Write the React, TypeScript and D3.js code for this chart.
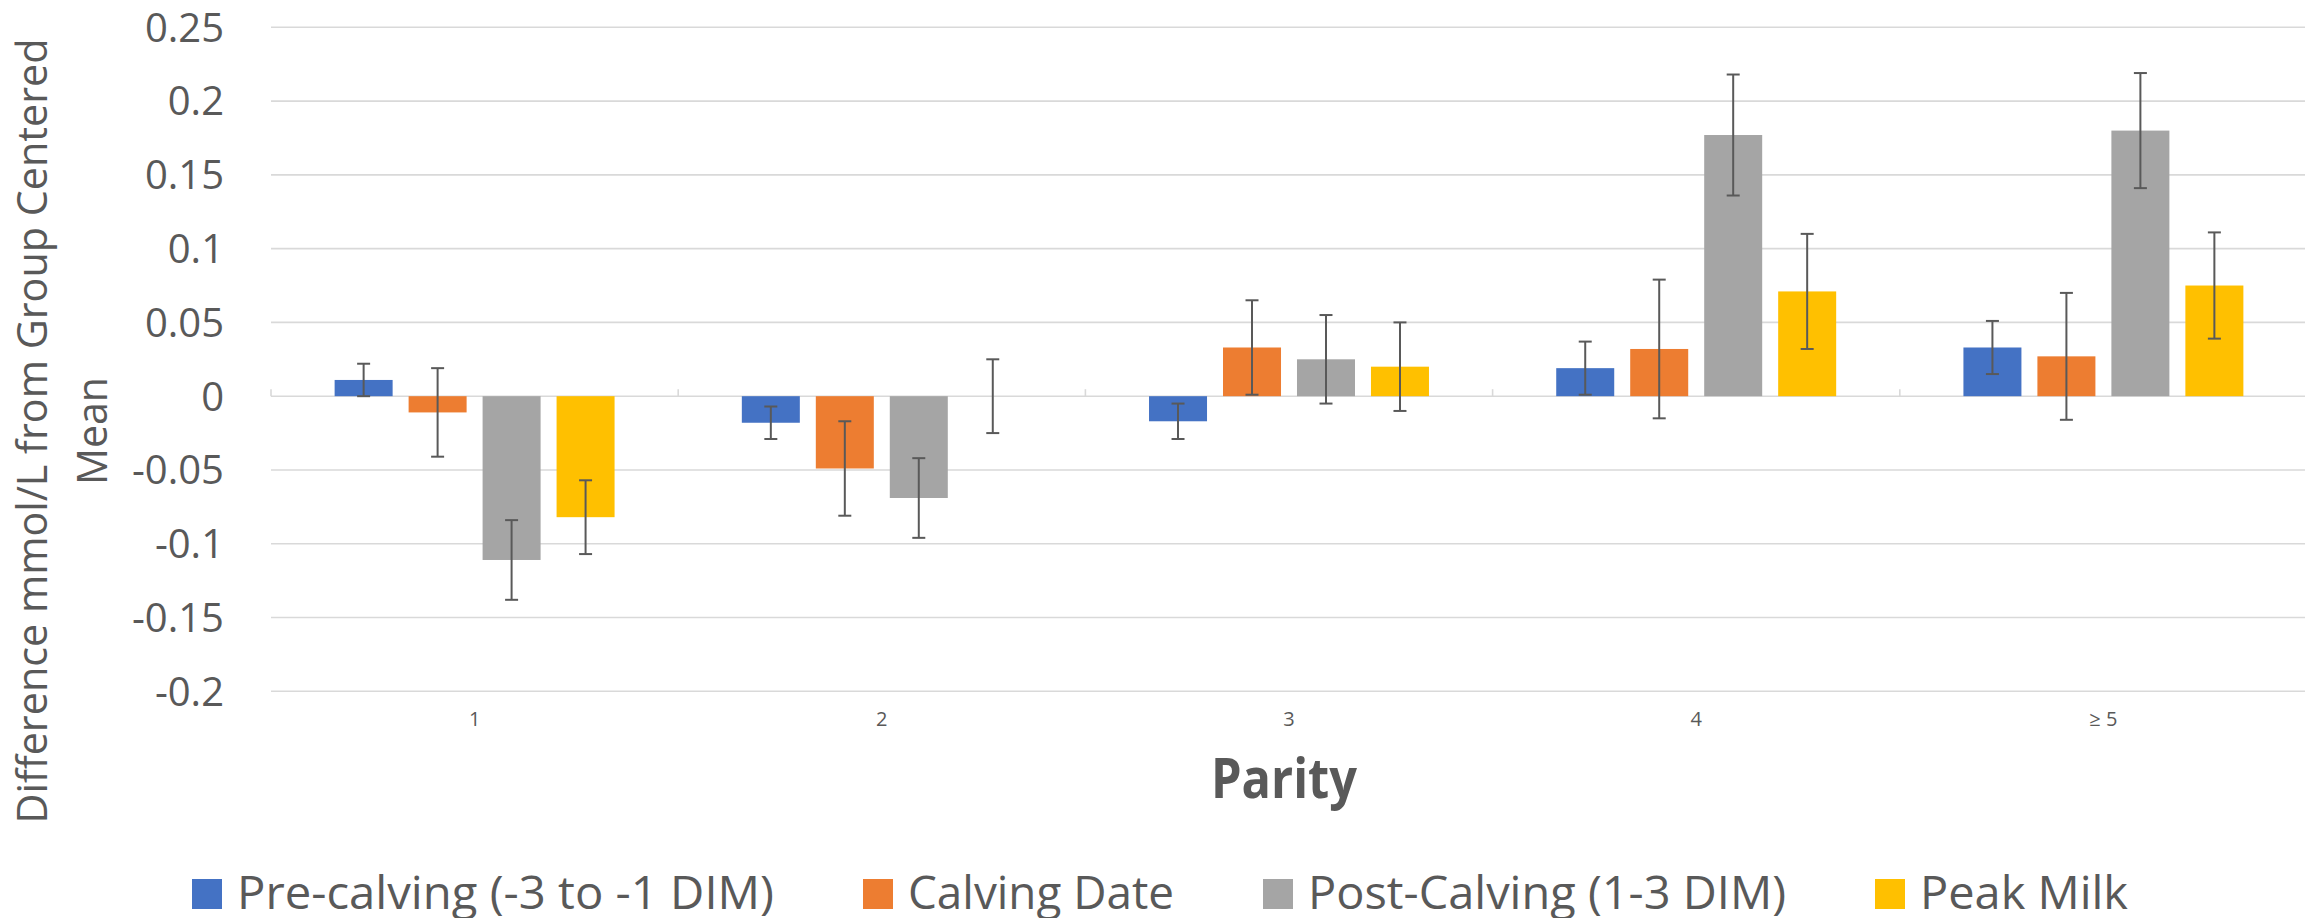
import React from "react";
import * as d3 from "d3";

// Parity groups and series
const categories = ["1", "2", "3", "4", "≥ 5"];
const seriesNames = [
  "Pre-calving (-3 to -1 DIM)",
  "Calving Date",
  "Post-Calving (1-3 DIM)",
  "Peak Milk",
];
const seriesColors = ["#4472C4", "#ED7D31", "#A5A5A5", "#FFC000"];

// Mean difference (mmol/L) from group-centered mean
const preCalving = [0.011, -0.018, -0.017, 0.019, 0.033];
const calvingDate = [-0.011, -0.049, 0.033, 0.032, 0.027];
const postCalving = [-0.111, -0.069, 0.025, 0.177, 0.18];
const peakMilk = [-0.082, 0, 0.02, 0.071, 0.075];

// Error bar half-widths
const preCalvingErr = [0.011, 0.011, 0.012, 0.018, 0.018];
const calvingDateErr = [0.03, 0.032, 0.032, 0.047, 0.043];
const postCalvingErr = [0.027, 0.027, 0.03, 0.041, 0.039];
const peakMilkErr = [0.025, 0.025, 0.03, 0.039, 0.036];

const yTicks = [-0.2, -0.15, -0.1, -0.05, 0, 0.05, 0.1, 0.15, 0.2, 0.25];

const W = 2305;
const H = 918;
const TEXT = "#595959";
const GRID = "#D9D9D9";
const FONT = "'Open Sans', 'Noto Sans', sans-serif";

export default function App() {
  const values = [preCalving, calvingDate, postCalving, peakMilk];
  const errors = [preCalvingErr, calvingDateErr, postCalvingErr, peakMilkErr];

  const plotLeft = 271;
  const plotRight = 2307;

  const x0 = d3
    .scaleBand<string>()
    .domain(categories)
    .range([plotLeft, plotRight])
    .paddingInner(0)
    .paddingOuter(0);

  const x1 = d3
    .scaleBand<string>()
    .domain(seriesNames)
    .range([0, x0.bandwidth()])
    .paddingInner(0.216)
    .paddingOuter(0.86);

  const y = d3.scaleLinear().domain([-0.2, 0.25]).range([691.3, 27.3]);

  const capHalf = 6.5;

  // legend layout
  const legendTextWidths = [537, 266, 478, 208];
  const legendStart = 192;
  const sq = 30;
  const sqGap = 15;
  const itemGap = 89;
  const legendX: number[] = [];
  {
    let cx = legendStart;
    legendTextWidths.forEach((w) => {
      legendX.push(cx);
      cx += sq + sqGap + w + itemGap;
    });
  }
  const legendTop = 879;

  const boundaries = [...categories.map((c) => x0(c) as number), plotRight];

  return (
    <div style={{ position: "fixed", left: 0, top: 0 }}>
      <svg width={W} height={H} style={{ display: "block", background: "#fff" }}>
        {/* gridlines */}
        {yTicks.map((t) => (
          <line
            key={"g" + t}
            x1={plotLeft}
            x2={plotRight}
            y1={y(t)}
            y2={y(t)}
            stroke={GRID}
            strokeWidth={1.6}
          />
        ))}
        {/* category tick marks on the zero axis */}
        {boundaries.map((bx, i) => (
          <line
            key={"ct" + i}
            x1={bx}
            x2={bx}
            y1={y(0)}
            y2={y(0) - 7}
            stroke={GRID}
            strokeWidth={1.6}
          />
        ))}
        {/* y tick labels */}
        {yTicks.map((t) => (
          <text
            key={"yt" + t}
            x={224}
            y={y(t)}
            dy="0.36em"
            textAnchor="end"
            fontFamily={FONT}
            fontSize={40}
            fill={TEXT}
          >
            {String(t)}
          </text>
        ))}
        {/* bars */}
        {categories.map((c, ci) => (
          <g key={"grp" + c} transform={`translate(${x0(c)},0)`}>
            {seriesNames.map((s, si) => {
              const v = values[si][ci];
              const bx = x1(s) as number;
              const y0 = y(0);
              const yv = y(v);
              return (
                <rect
                  key={s}
                  x={bx}
                  y={Math.min(y0, yv)}
                  width={x1.bandwidth()}
                  height={Math.abs(yv - y0)}
                  fill={seriesColors[si]}
                />
              );
            })}
          </g>
        ))}
        {/* error bars */}
        {categories.map((c, ci) => (
          <g key={"err" + c} transform={`translate(${x0(c)},0)`}>
            {seriesNames.map((s, si) => {
              const v = values[si][ci];
              const e = errors[si][ci];
              const cx = (x1(s) as number) + x1.bandwidth() / 2;
              const yt = y(v + e);
              const yb = y(v - e);
              return (
                <g key={s} stroke={TEXT} strokeWidth={2}>
                  <line x1={cx} x2={cx} y1={yt} y2={yb} />
                  <line x1={cx - capHalf} x2={cx + capHalf} y1={yt} y2={yt} />
                  <line x1={cx - capHalf} x2={cx + capHalf} y1={yb} y2={yb} />
                </g>
              );
            })}
          </g>
        ))}
        {/* category labels */}
        {categories.map((c) => (
          <text
            key={"xl" + c}
            x={(x0(c) as number) + x0.bandwidth() / 2}
            y={726}
            textAnchor="middle"
            fontFamily={FONT}
            fontSize={20}
            fill={TEXT}
          >
            {c}
          </text>
        ))}
        {/* x axis title */}
        <text
          x={1284}
          y={798}
          textAnchor="middle"
          fontFamily={FONT}
          fontWeight={700}
          fontSize={56}
          fill={TEXT}
          textLength={146}
          lengthAdjust="spacingAndGlyphs"
        >
          Parity
        </text>
        {/* y axis title */}
        <g transform="translate(47,431) rotate(-90)">
          <text
            x={0}
            y={0}
            textAnchor="middle"
            fontFamily={FONT}
            fontSize={42}
            fill={TEXT}
            textLength={785}
            lengthAdjust="spacingAndGlyphs"
          >
            Difference mmol/L from Group Centered
          </text>
        </g>
        <g transform="translate(107,431) rotate(-90)">
          <text
            x={0}
            y={0}
            textAnchor="middle"
            fontFamily={FONT}
            fontSize={42}
            fill={TEXT}
            textLength={108}
            lengthAdjust="spacingAndGlyphs"
          >
            Mean
          </text>
        </g>
        {/* legend */}
        {seriesNames.map((s, i) => (
          <g key={"lg" + s}>
            <rect x={legendX[i]} y={legendTop} width={sq} height={sq} fill={seriesColors[i]} />
            <text
              x={legendX[i] + sq + sqGap}
              y={legendTop + sq}
              fontFamily={FONT}
              fontSize={45}
              fill={TEXT}
              textLength={legendTextWidths[i]}
              lengthAdjust="spacingAndGlyphs"
            >
              {s}
            </text>
          </g>
        ))}
      </svg>
    </div>
  );
}
